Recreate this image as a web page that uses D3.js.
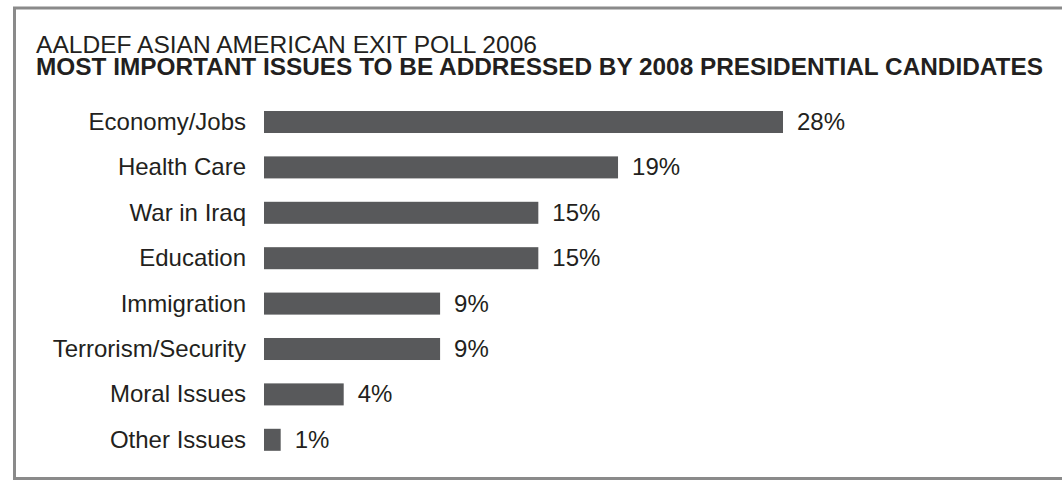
<!DOCTYPE html>
<html>
<head>
<meta charset="utf-8">
<script src="https://cdn.jsdelivr.net/npm/d3@7"></script>
<style>
  html, body { margin: 0; padding: 0; background: #fff; }
  svg { display: block; font-family: "Liberation Sans", Arial, sans-serif; }
</style>
</head>
<body>
<div id="chart"></div>
<script>
// Data
const titleLine1 = "AALDEF ASIAN AMERICAN EXIT POLL 2006";
const titleLine2 = "MOST IMPORTANT ISSUES TO BE ADDRESSED BY 2008 PRESIDENTIAL CANDIDATES";
const issues = ["Economy/Jobs", "Health Care", "War in Iraq", "Education",
                "Immigration", "Terrorism/Security", "Moral Issues", "Other Issues"];
const shares = [28, 19.1, 14.8, 14.8, 9.5, 9.5, 4.3, 0.9];
const shareLabels = ["28%", "19%", "15%", "15%", "9%", "9%", "4%", "1%"];

function drawChart() {
    const width = 1062;
    const height = 481;
    const textColor = "#231f20";
    const barColor = "#58595b";

    const container = d3.select("#chart");
    container.selectAll("*").remove();

    const svg = container.append("svg")
        .attr("width", width)
        .attr("height", height);

    // Frame (right side runs off the page)
    svg.append("rect")
        .attr("x", 14.5)
        .attr("y", 8)
        .attr("width", 1100)
        .attr("height", 470.5)
        .attr("fill", "none")
        .attr("stroke", "#8a8a8a")
        .attr("stroke-width", 3);

    // Titles
    svg.append("text")
        .attr("x", 36)
        .attr("y", 53)
        .attr("fill", textColor)
        .style("font-size", "24px")
        .attr("textLength", 501)
        .attr("lengthAdjust", "spacingAndGlyphs")
        .text(titleLine1);

    svg.append("text")
        .attr("x", 36)
        .attr("y", 75)
        .attr("fill", textColor)
        .style("font-size", "24px")
        .style("font-weight", "bold")
        .attr("textLength", 1007)
        .attr("lengthAdjust", "spacingAndGlyphs")
        .text(titleLine2);

    // Scales
    const x = d3.scaleLinear()
        .domain([0, 28])
        .range([264, 783]);

    const y = d3.scaleBand()
        .domain(issues)
        .range([99.3, 462.5])
        .paddingInner(0.515)
        .paddingOuter(0.2575);

    const rows = issues.map((name, i) => ({ name: name, value: shares[i], label: shareLabels[i] }));

    // Bars
    svg.selectAll(".bar")
        .data(rows)
        .enter()
        .append("rect")
        .attr("class", "bar")
        .attr("x", x(0))
        .attr("y", d => y(d.name))
        .attr("width", d => x(d.value) - x(0))
        .attr("height", y.bandwidth())
        .attr("fill", barColor);

    // Category labels
    svg.selectAll(".cat-label")
        .data(rows)
        .enter()
        .append("text")
        .attr("class", "cat-label")
        .attr("x", 246)
        .attr("y", d => y(d.name) + y.bandwidth() / 2)
        .attr("dy", "0.33em")
        .attr("text-anchor", "end")
        .attr("fill", textColor)
        .style("font-size", "24px")
        .text(d => d.name);

    // Value labels
    svg.selectAll(".val-label")
        .data(rows)
        .enter()
        .append("text")
        .attr("class", "val-label")
        .attr("x", d => x(d.value) + 14)
        .attr("y", d => y(d.name) + y.bandwidth() / 2)
        .attr("dy", "0.33em")
        .attr("fill", textColor)
        .style("font-size", "24px")
        .text(d => d.label);
}

drawChart();
</script>
</body>
</html>
